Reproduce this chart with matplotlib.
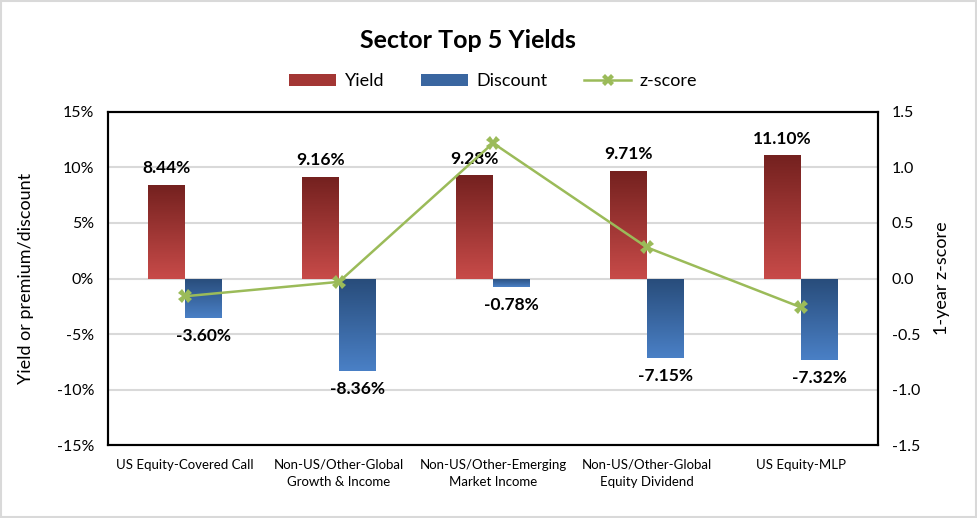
import numpy as np
import matplotlib.pyplot as plt
from matplotlib.colors import LinearSegmentedColormap
from matplotlib.patches import Rectangle, Patch
from matplotlib.lines import Line2D

plt.rcParams['font.family'] = ['Lato', 'DejaVu Sans']

# data
categories = ["US Equity-Covered Call", "Non-US/Other-Global\nGrowth & Income",
              "Non-US/Other-Emerging\nMarket Income", "Non-US/Other-Global\nEquity Dividend",
              "US Equity-MLP"]
yields = [8.44, 9.16, 9.28, 9.71, 11.10]
discounts = [-3.60, -8.36, -0.78, -7.15, -7.32]
zscores = [-0.16, -0.03, 1.22, 0.28, -0.26]

red_top, red_bot = "#74211F", "#C84B49"
blue_top, blue_bot = "#284C7A", "#4A80C6"

fig = plt.figure(figsize=(9.77, 5.18), dpi=100)
ax = fig.add_axes([0.1105, 0.1409, 0.7882, 0.6429])
ax2 = ax.twinx()

x = np.arange(len(categories))
w = 0.24


def grad_bar(a, xc, h, c_top, c_bot):
    # bar with a vertical gradient, dark at top
    y0, y1 = min(0, h), max(0, h)
    rect = Rectangle((xc - w / 2, y0), w, y1 - y0, facecolor="none", edgecolor="none")
    a.add_patch(rect)
    cmap = LinearSegmentedColormap.from_list("g", [c_bot, c_top])
    grad = np.linspace(0, 1, 256).reshape(-1, 1)
    im = a.imshow(grad, cmap=cmap, aspect="auto", origin="lower",
                  extent=[xc - w / 2, xc + w / 2, y0, y1], zorder=2)
    im.set_clip_path(rect)


for i in range(len(categories)):
    grad_bar(ax, x[i] - w / 2, yields[i], red_top, red_bot)
    grad_bar(ax, x[i] + w / 2, discounts[i], blue_top, blue_bot)
    ax.text(x[i] - w / 2, yields[i] + 0.75, f"{yields[i]:.2f}%", ha="center", va="bottom",
            fontsize=12.5, fontweight="bold")
    ax.text(x[i] + w / 2, discounts[i] - 0.9, f"{discounts[i]:.2f}%", ha="center", va="top",
            fontsize=12.5, fontweight="bold")

ax.set_xlim(-0.5, len(categories) - 0.5)
ax.set_ylim(-15, 15)
ax.set_yticks(range(-15, 16, 5))
ax.set_yticklabels([f"{v}%" for v in range(-15, 16, 5)], fontsize=11.5)
ax.set_xticks(x)
ax.set_xticklabels(categories, fontsize=9.5, linespacing=1.55)
ax.tick_params(length=0, pad=10)
ax.yaxis.grid(True, color="#D9D9D9", linewidth=1.5, zorder=0)
ax.set_axisbelow(True)
ax.set_ylabel("Yield or premium/discount", fontsize=13, labelpad=16)

ax2.plot(x, zscores, color="#9BBB59", linewidth=1.8, marker="X", markersize=10,
         markeredgewidth=0, zorder=5)
ax2.set_ylim(-1.5, 1.5)
ax2.set_yticks(np.arange(-1.5, 1.6, 0.5))
ax2.set_yticklabels([f"{v:.1f}" for v in np.arange(-1.5, 1.6, 0.5)], fontsize=11.5)
ax2.tick_params(length=0, pad=10)
ax2.set_ylabel("1-year z-score", fontsize=13, labelpad=10)

for a in (ax, ax2):
    for s in a.spines.values():
        s.set_linewidth(1.5)
        s.set_color("black")

# legend
handles = [Patch(facecolor="#A33634", label="Yield"),
           Patch(facecolor="#3A66A0", label="Discount"),
           Line2D([0], [0], color="#9BBB59", linewidth=1.8, marker="X", markersize=9,
                  markeredgewidth=0, label="z-score")]
fig.legend(handles=handles, loc="center", bbox_to_anchor=(0.505, 0.843), ncol=3,
           frameon=False, fontsize=13, handlelength=2.6, handleheight=0.6,
           columnspacing=2.0, handletextpad=0.5)

fig.text(0.479, 0.922, "Sector Top 5 Yields", ha="center", va="center", fontsize=18,
         fontweight="bold")

fig.patches.append(Rectangle((0.001, 0.001), 0.998, 0.998, transform=fig.transFigure,
                             facecolor="none", edgecolor="#D9D9D9", linewidth=1.5))

fig.savefig("out.png", dpi=100)
